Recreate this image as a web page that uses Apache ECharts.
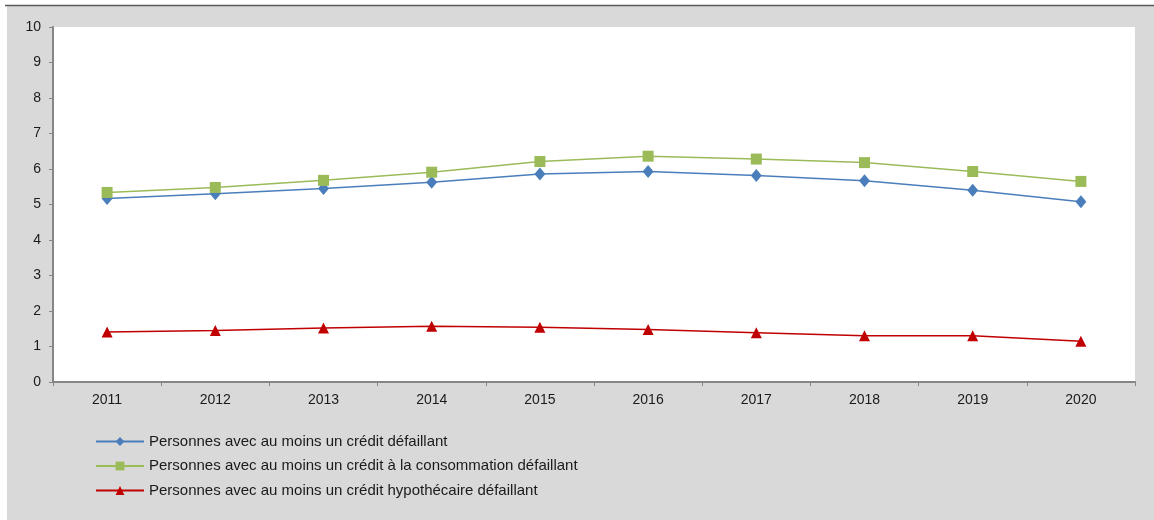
<!DOCTYPE html>
<html>
<head>
<meta charset="utf-8">
<script src="https://cdn.jsdelivr.net/npm/echarts@6/dist/echarts.min.js"></script>
<style>
  html, body { margin: 0; padding: 0; background: #ffffff; }
  #chart { width: 1154px; height: 520px; }
</style>
</head>
<body>
<div id="chart"></div>
<script>
// Years on the horizontal axis
const years = ['2011', '2012', '2013', '2014', '2015', '2016', '2017', '2018', '2019', '2020'];

// Share of persons with at least one defaulted credit (%)
const creditDefaillant = [5.17, 5.30, 5.45, 5.63, 5.86, 5.93, 5.82, 5.67, 5.40, 5.08];
const consommationDefaillant = [5.34, 5.48, 5.68, 5.91, 6.21, 6.36, 6.28, 6.18, 5.93, 5.65];
const hypothecaireDefaillant = [1.41, 1.45, 1.52, 1.57, 1.54, 1.48, 1.39, 1.30, 1.30, 1.15];

const seriesNames = [
  'Personnes avec au moins un crédit défaillant',
  'Personnes avec au moins un crédit à la consommation défaillant',
  'Personnes avec au moins un crédit hypothécaire défaillant'
];

const FONT = 'Liberation Sans, Arial, sans-serif';

const chart = echarts.init(document.getElementById('chart'), null, { renderer: 'canvas' });

function lineSeries(name, data, color, symbol, size) {
  return {
    name: name,
    type: 'line',
    data: data,
    symbol: symbol,
    symbolSize: size,
    showSymbol: true,
    smooth: false,
    lineStyle: { color: color, width: 1.5 },
    itemStyle: { color: color },
    emphasis: { disabled: true },
    z: 3
  };
}

chart.setOption({
  animation: false,
  backgroundColor: '#ffffff',
  graphic: [
    {
      type: 'rect',
      shape: { x: 7, y: 5, width: 1147, height: 515 },
      style: { fill: '#d9d9d9' },
      z: -10,
      silent: true
    },
    {
      type: 'line',
      shape: { x1: 5, y1: 5.5, x2: 1154, y2: 5.5 },
      style: { stroke: '#595959', lineWidth: 1.5 },
      z: -9,
      silent: true
    }
  ],
  grid: {
    left: 53,
    right: 19,
    top: 27,
    bottom: 138,
    show: true,
    backgroundColor: '#ffffff',
    borderWidth: 0
  },
  legend: {
    orient: 'vertical',
    left: 90,
    top: 429,
    itemWidth: 48,
    itemHeight: 11,
    itemGap: 9.5,
    data: seriesNames,
    textStyle: { fontFamily: FONT, fontSize: 15, color: '#1a1a1a' },
    selectedMode: false
  },
  xAxis: {
    type: 'category',
    data: years,
    boundaryGap: true,
    axisLine: { lineStyle: { color: '#868686', width: 2 } },
    axisTick: { show: true, length: 4, alignWithLabel: false, lineStyle: { color: '#868686', width: 1 } },
    axisLabel: { fontFamily: FONT, fontSize: 14, color: '#1a1a1a', margin: 11 },
    splitLine: { show: false }
  },
  yAxis: {
    type: 'value',
    min: 0,
    max: 10,
    interval: 1,
    axisLine: { show: true, lineStyle: { color: '#868686', width: 2 } },
    axisTick: { show: true, length: 4, lineStyle: { color: '#868686', width: 1 } },
    axisLabel: { fontFamily: FONT, fontSize: 14, color: '#1a1a1a', margin: 12 },
    splitLine: { show: false }
  },
  series: [
    lineSeries(seriesNames[0], creditDefaillant, '#4a7ebb', 'diamond', [11, 13]),
    lineSeries(seriesNames[1], consommationDefaillant, '#9bbb59', 'rect', 11),
    lineSeries(seriesNames[2], hypothecaireDefaillant, '#c00000', 'triangle', [11, 11])
  ]
});
</script>
</body>
</html>
